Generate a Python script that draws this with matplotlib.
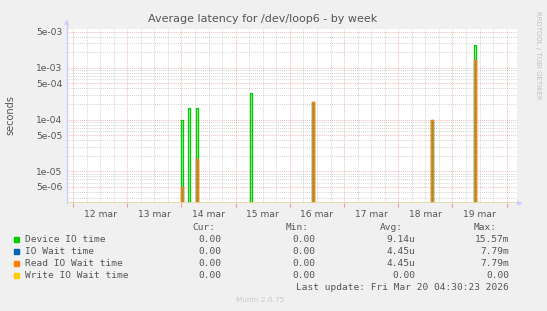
import matplotlib
matplotlib.use('Agg')
import matplotlib.pyplot as plt
import numpy as np
from matplotlib.ticker import FixedLocator, NullFormatter

# days since 12 mar 00:00
spike_t = [1.99, 2.125, 2.27, 3.265, 4.415, 6.61, 7.405]
device_io = [1.0e-4, 1.7e-4, 1.7e-4, 3.3e-4, 2.2e-4, 1.0e-4, 2.8e-3]
io_wait = [5.0e-6, 0, 1.75e-5, 0, 2.2e-4, 1.0e-4, 1.4e-3]
read_wait = [5.0e-6, 0, 1.75e-5, 0, 2.2e-4, 1.0e-4, 1.4e-3]
write_wait = [0, 0, 0, 0, 0, 0, 0]

day_labels = ['12 mar', '13 mar', '14 mar', '15 mar', '16 mar', '17 mar', '18 mar', '19 mar']
ytick_vals = [5e-6, 1e-5, 5e-5, 1e-4, 5e-4, 1e-3, 5e-3]
ytick_labels = ['5e-06', '1e-05', '5e-05', '1e-04', '5e-04', '1e-03', '5e-03']

series = [
    ('Device IO time', '#00CC00', device_io, '0.00', '0.00', '9.14u', '15.57m'),
    ('IO Wait time', '#0066B3', io_wait, '0.00', '0.00', '4.45u', '7.79m'),
    ('Read IO Wait time', '#FF8000', read_wait, '0.00', '0.00', '4.45u', '7.79m'),
    ('Write IO Wait time', '#FFCC00', write_wait, '0.00', '0.00', '0.00', '0.00'),
]

W, H = 547, 311
fig = plt.figure(figsize=(W / 100, H / 100), dpi=100, facecolor='#F0F0F0')
x0, x1, y0, y1 = 66.7, 517, 29, 203
ax = fig.add_axes([x0 / W, 1 - y1 / H, (x1 - x0) / W, (y1 - y0) / H])
ax.set_facecolor('white')

xmin, xmax = -0.116, 8.19
ymin, ymax = 2.44e-6, 5.6e-3
ax.set_xlim(xmin, xmax)
ax.set_yscale('log')
ax.set_ylim(ymin, ymax)

# grid
minor_y = [m * 10.0 ** e for e in range(-6, -2) for m in (2, 3, 4, 6, 7, 8, 9)]
for v in minor_y:
    if ymin < v < ymax:
        ax.axhline(v, color='#C4C4C4', lw=0.6, ls=(0, (1, 1.5)), zorder=1)
for v in ytick_vals:
    ax.axhline(v, color='#EE9A9A', lw=0.6, ls=(0, (1, 1.5)), zorder=1.1)
for h in np.arange(0, 8.25, 0.25):
    if h % 1:
        ax.axvline(h, color='#C4C4C4', lw=0.6, ls=(0, (1, 1.5)), zorder=1)
for d in range(0, 9):
    ax.axvline(d, color='#EE9A9A', lw=0.6, ls=(0, (1, 1.5)), zorder=1.1)

# spikes
w = 0.035
for name, col, vals, *_ in series:
    for t, v in zip(spike_t, vals):
        if v <= 0:
            continue
        ax.fill([t, t, t + w, t + w], [ymin, v, v, ymin], color=col, alpha=0.3, lw=0, zorder=2)
        ax.plot([t, t, t + w, t + w], [ymin, v, v, ymin], color=col, lw=0.9, zorder=3)
ax.axhline(ymin * 1.02, color='#E6D49A', lw=1.2, zorder=3)

# axes
for s in ax.spines.values():
    s.set_visible(False)
ax.yaxis.set_major_locator(FixedLocator(ytick_vals))
ax.set_yticklabels(ytick_labels)
ax.yaxis.set_minor_formatter(NullFormatter())
ax.tick_params(axis='y', which='both', length=0, labelsize=6.6, labelcolor='#555555', pad=3)
ax.set_xticks(np.arange(0, 9))
ax.set_xticklabels([''] * 9)
ax.set_xticks(np.arange(0.5, 8, 1), minor=True)
ax.set_xticklabels(day_labels, minor=True)
ax.tick_params(axis='x', which='major', length=3, color='#EE9A9A', width=0.8)
ax.tick_params(axis='x', which='minor', length=0, labelsize=6.6, labelcolor='#555555', pad=5)
ax.plot([xmin, xmin], [ymin, ymax * 1.25], color='#CCCCFF', lw=1, clip_on=False, zorder=4)
ax.plot([xmax, xmax + 0.05], [ymin, ymin], color='#CCCCFF', lw=1, clip_on=False, zorder=4)
fig.text(x0 / W, 1 - 22 / H, '\u25B2', color='#CCCCFF', fontsize=5, ha='center', va='center')
fig.text(520 / W, 1 - 203 / H, '\u25B6', color='#CCCCFF', fontsize=5, ha='center', va='center')

fig.text(263 / W, 1 - 19 / H, 'Average latency for /dev/loop6 - by week', ha='center', va='center',
         fontsize=8, color='#555555')
fig.text(10 / W, 1 - 115 / H, 'seconds', rotation=90, ha='center', va='center', fontsize=7, color='#555555')
fig.text(538 / W, 1 - 55 / H, 'RRDTOOL / TOBI OETIKER', rotation=270, ha='center', va='center',
         fontsize=5, color='#C0C0C0')

# legend
mono = 'DejaVu Sans Mono'
fs = 6.8
tc = '#555555'
cols = [221.7, 315, 415, 509]
heads = ['Cur:', 'Min:', 'Avg:', 'Max:']
head_x = [215.7, 309, 403, 497]
for hx, hd in zip(head_x, heads):
    fig.text(hx / W, 1 - 227.5 / H, hd, ha='right', va='center', family=mono, fontsize=fs, color=tc)
rows_y = [239.5, 251.5, 263.5, 275.5]
for (name, col, vals, cur, mn, avg, mx), ry in zip(series, rows_y):
    fig.patches.append(plt.Rectangle((13.5 / W, 1 - (ry + 2.7) / H), 5.3 / W, 5.3 / H,
                                     transform=fig.transFigure, color=col))
    fig.text(25 / W, 1 - ry / H, name, ha='left', va='center', family=mono, fontsize=fs, color=tc)
    for cx, val in zip(cols, [cur, mn, avg, mx]):
        fig.text(cx / W, 1 - ry / H, val, ha='right', va='center', family=mono, fontsize=fs, color=tc)
fig.text(509 / W, 1 - 287.7 / H, 'Last update: Fri Mar 20 04:30:23 2026', ha='right', va='center',
         family=mono, fontsize=fs, color=tc)
fig.text(260 / W, 1 - 300 / H, 'Munin 2.0.75', ha='center', va='center', fontsize=5.3, color='#C8C8C8')

fig.savefig('out.png', dpi=100, facecolor=fig.get_facecolor())
